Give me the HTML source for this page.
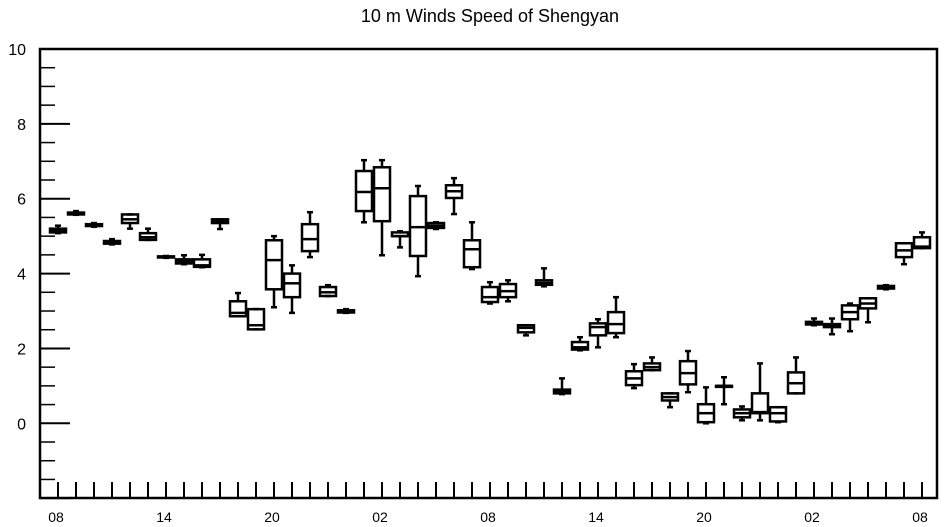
<!DOCTYPE html>
<html><head><meta charset="utf-8"><style>
body{margin:0;background:#fff}
svg{display:block;font-family:"Liberation Sans",sans-serif}
</style></head><body>
<svg id="chart" width="945" height="527">
<text x="490" y="22" text-anchor="middle" font-size="18">10 m Winds Speed of Shengyan</text>
<g id="axes"></g><g id="boxes"></g>
</svg>
<script>
const hourLabels=["08","14","20","02","08","14","20","02","08"];
const yTicks=[0,2,4,6,8,10];
const mins=[5.08,5.57,5.25,4.78,5.2,4.9,4.42,4.25,4.17,5.19,2.86,2.51,3.1,2.95,4.44,3.4,2.95,5.37,4.49,4.7,3.93,5.19,5.59,4.12,3.2,3.26,2.35,3.66,0.78,1.95,2.03,2.3,0.94,1.42,0.43,0.83,0.0,0.51,0.08,0.08,0.03,0.8,2.62,2.38,2.46,2.7,3.58,4.25,4.68];
const q1s=[5.1,5.58,5.27,4.8,5.35,4.9,4.43,4.27,4.18,5.35,2.86,2.51,3.58,3.37,4.6,3.4,2.96,5.67,5.4,5.0,4.47,5.22,6.02,4.17,3.24,3.37,2.43,3.7,0.8,1.97,2.35,2.41,1.02,1.42,0.61,1.04,0.03,0.99,0.16,0.27,0.05,0.8,2.64,2.57,2.78,3.07,3.6,4.44,4.68];
const medians=[5.15,5.6,5.3,4.83,5.45,4.97,4.44,4.32,4.22,5.4,2.95,2.62,4.36,3.74,4.92,3.5,2.98,6.18,6.28,5.0,5.24,5.28,6.2,4.65,3.37,3.53,2.55,3.75,0.85,2.03,2.57,2.65,1.2,1.5,0.7,1.34,0.27,1.0,0.27,0.3,0.27,1.07,2.67,2.6,2.97,3.2,3.63,4.62,4.72];
const q3s=[5.2,5.63,5.32,4.87,5.58,5.08,4.46,4.38,4.38,5.45,3.26,3.05,4.89,4.0,5.32,3.64,3.02,6.74,6.84,5.1,6.07,5.35,6.36,4.89,3.64,3.72,2.62,3.82,0.9,2.17,2.67,2.97,1.39,1.6,0.8,1.66,0.51,1.0,0.37,0.8,0.43,1.36,2.71,2.65,3.15,3.34,3.67,4.81,4.97];
const maxs=[5.28,5.67,5.35,4.92,5.58,5.2,4.47,4.49,4.5,5.45,3.48,3.05,5.0,4.22,5.64,3.69,3.05,7.03,7.03,5.13,6.34,5.37,6.55,5.37,3.77,3.82,2.62,4.14,1.2,2.3,2.78,3.37,1.58,1.76,0.8,1.93,0.96,1.23,0.45,1.6,0.43,1.76,2.8,2.8,3.2,3.34,3.69,4.81,5.1];
const NS="http://www.w3.org/2000/svg";
const L=40,R=937,T=49,B=498;
function y(v){return 423.3-37.43*v;}
function x(i){return 58+18*i;}
function mk(tag,attrs,parent){const e=document.createElementNS(NS,tag);for(const k in attrs)e.setAttribute(k,attrs[k]);parent.appendChild(e);return e;}
const ax=document.getElementById('axes');
let fr=mk('rect',{x:L,y:T,width:R-L,height:B-T,fill:'none',stroke:'#000','stroke-width':2.5},ax);


for(let v=-2;v<=10.001;v+=0.5){
  const major=Math.abs(v%2)<1e-6;
  const t=mk('line',{x1:L,x2:L+(major?30:15),y1:y(v),y2:y(v),stroke:'#000','stroke-width':major?2:1.5},ax);
  
  
}
yTicks.forEach(v=>{
  const t=mk('text',{x:26,y:y(v)+6,'text-anchor':'end','font-size':16},ax);
  t.textContent=v;
  
  
});
for(let i=0;i<mins.length;i++){
  const t=mk('line',{x1:x(i),x2:x(i),y1:B,y2:B-16,stroke:'#000','stroke-width':2},ax);
  
  
}
hourLabels.forEach((s,k)=>{
  const t=mk('text',{x:x(k*6)-2,y:522,'text-anchor':'middle','font-size':14},ax);
  t.textContent=s;
  
  
});
const bx=document.getElementById('boxes');
for(let i=0;i<mins.length;i++){
  const g=mk('g',{stroke:'#000','stroke-width':2.5,fill:'none'},bx);
  
  
  const cx=x(i),w=8;
  mk('line',{x1:cx,x2:cx,y1:y(maxs[i]),y2:y(q3s[i])},g);
  mk('line',{x1:cx,x2:cx,y1:y(q1s[i]),y2:y(mins[i])},g);
  mk('line',{x1:cx-3,x2:cx+3,y1:y(maxs[i]),y2:y(maxs[i])},g);
  mk('line',{x1:cx-3,x2:cx+3,y1:y(mins[i]),y2:y(mins[i])},g);
  mk('rect',{x:cx-w,y:y(q3s[i]),width:2*w,height:Math.max(1,y(q1s[i])-y(q3s[i]))},g);
  mk('line',{x1:cx-w,x2:cx+w,y1:y(medians[i]),y2:y(medians[i])},g);
}
</script>
</body></html>
